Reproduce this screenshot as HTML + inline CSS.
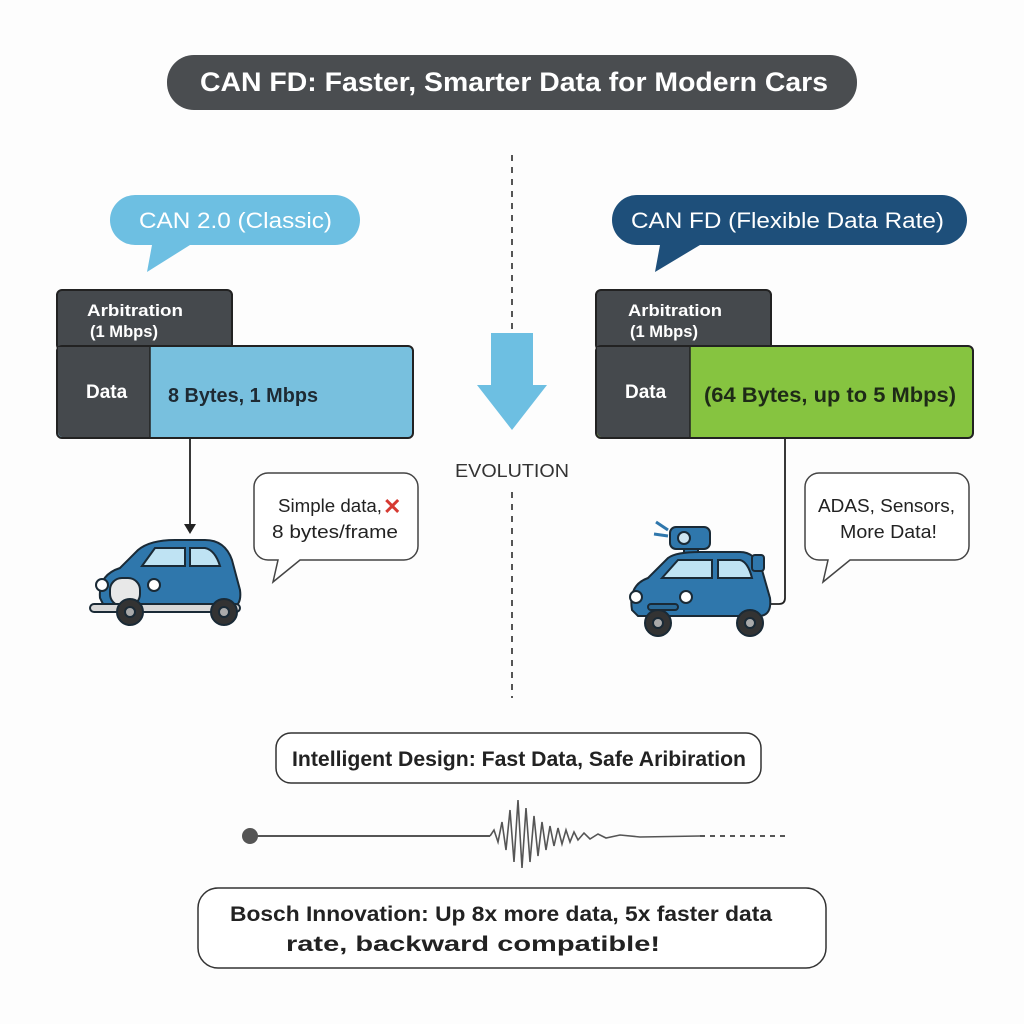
<!DOCTYPE html>
<html><head><meta charset="utf-8"><style>
body{margin:0;background:#fff}
svg{display:block}
text{font-family:"Liberation Sans",sans-serif}
</style></head><body>
<svg width="1024" height="1024" viewBox="0 0 1024 1024">
<rect width="1024" height="1024" fill="#fdfdfd"/>
<rect x="167" y="55" width="690" height="55" rx="27" fill="#4a4d50"/>
<text x="200" y="91" font-size="27" font-weight="bold" fill="#fff" textLength="628" lengthAdjust="spacingAndGlyphs">CAN FD: Faster, Smarter Data for Modern Cars</text>
<line x1="512" y1="155" x2="512" y2="425" stroke="#555" stroke-width="2" stroke-dasharray="6,6"/>
<line x1="512" y1="492" x2="512" y2="698" stroke="#555" stroke-width="2" stroke-dasharray="6,6"/>
<path d="M135 195 H335 A25 25 0 0 1 335 245 H190 L147 272 L152 245 H135 A25 25 0 0 1 135 195Z" fill="#6dbfe2"/>
<text x="139" y="228" font-size="22" fill="#fff" textLength="193" lengthAdjust="spacingAndGlyphs">CAN 2.0 (Classic)</text>
<path d="M637 195 H942 A25 25 0 0 1 942 245 H700 L655 272 L660 245 H637 A25 25 0 0 1 637 195Z" fill="#1e4f7a"/>
<text x="631" y="228" font-size="22" fill="#fff" textLength="313" lengthAdjust="spacingAndGlyphs">CAN FD (Flexible Data Rate)</text>
<rect x="57" y="290" width="175" height="60" rx="5" fill="#45494d" stroke="#222" stroke-width="2"/>
<rect x="57" y="346" width="356" height="92" rx="5" fill="#78c0de" stroke="#222" stroke-width="2"/>
<path d="M62 347 H150 V437 H62 A5 5 0 0 1 58 432 V347Z" fill="#45494d"/>
<line x1="150" y1="347" x2="150" y2="437" stroke="#222" stroke-width="1.5"/>
<text x="87" y="316" font-size="17" font-weight="bold" fill="#fff" textLength="96" lengthAdjust="spacingAndGlyphs">Arbitration</text>
<text x="90" y="337" font-size="17" font-weight="bold" fill="#fff" textLength="68" lengthAdjust="spacingAndGlyphs">(1 Mbps)</text>
<text x="86" y="398" font-size="19" font-weight="bold" fill="#fff">Data</text>
<text x="168" y="402" font-size="20" font-weight="bold" fill="#1e2a33" textLength="150" lengthAdjust="spacingAndGlyphs">8 Bytes, 1 Mbps</text>
<rect x="596" y="290" width="175" height="60" rx="5" fill="#45494d" stroke="#222" stroke-width="2"/>
<rect x="596" y="346" width="377" height="92" rx="5" fill="#86c440" stroke="#222" stroke-width="2"/>
<path d="M601 347 H690 V437 H601 A5 5 0 0 1 597 432 V347Z" fill="#45494d"/>
<line x1="690" y1="347" x2="690" y2="437" stroke="#222" stroke-width="1.5"/>
<text x="628" y="316" font-size="17" font-weight="bold" fill="#fff" textLength="94" lengthAdjust="spacingAndGlyphs">Arbitration</text>
<text x="630" y="337" font-size="17" font-weight="bold" fill="#fff" textLength="68" lengthAdjust="spacingAndGlyphs">(1 Mbps)</text>
<text x="625" y="398" font-size="19" font-weight="bold" fill="#fff">Data</text>
<text x="704" y="402" font-size="21" font-weight="bold" fill="#1e2a17" textLength="252" lengthAdjust="spacingAndGlyphs">(64 Bytes, up to 5 Mbps)</text>
<path d="M491 333 H533 V385 H547 L512 430 L477 385 H491Z" fill="#6dbfe2"/>
<text x="455" y="477" font-size="18" fill="#333" textLength="114" lengthAdjust="spacingAndGlyphs">EVOLUTION</text>
<line x1="190" y1="438" x2="190" y2="526" stroke="#222" stroke-width="1.8"/>
<path d="M184 524 L196 524 L190 534Z" fill="#222"/>
<path d="M785 438 V598 Q785 604 779 604 H768" fill="none" stroke="#222" stroke-width="1.8"/>
<path d="M268 473 H404 A14 14 0 0 1 418 487 V546 A14 14 0 0 1 404 560 H300 L273 582 L278 560 H268 A14 14 0 0 1 254 546 V487 A14 14 0 0 1 268 473Z" fill="#fff" stroke="#444" stroke-width="1.5"/>
<text x="278" y="512" font-size="18" fill="#222" textLength="104" lengthAdjust="spacingAndGlyphs">Simple data,</text>
<text x="383" y="514" font-size="22" fill="#d63a32" font-weight="bold">✕</text>
<text x="272" y="538" font-size="18" fill="#222" textLength="126" lengthAdjust="spacingAndGlyphs">8 bytes/frame</text>
<path d="M819 473 H955 A14 14 0 0 1 969 487 V546 A14 14 0 0 1 955 560 H850 L823 582 L828 560 H819 A14 14 0 0 1 805 546 V487 A14 14 0 0 1 819 473Z" fill="#fff" stroke="#444" stroke-width="1.5"/>
<text x="818" y="512" font-size="18" fill="#222" textLength="137" lengthAdjust="spacingAndGlyphs">ADAS, Sensors,</text>
<text x="840" y="538" font-size="18" fill="#222" textLength="97" lengthAdjust="spacingAndGlyphs">More Data!</text>
<g stroke="#1a2a36" stroke-width="2">
<path d="M100 598 Q98 575 120 568 L138 550 Q150 540 175 540 H205 Q225 540 232 560 L240 590 Q242 605 232 608 H105Z" fill="#2f77ac"/>
<path d="M142 566 L155 548 H185 V566Z" fill="#bfe3f3"/>
<path d="M190 548 H205 Q215 550 220 566 H190Z" fill="#bfe3f3"/>
<rect x="110" y="578" width="30" height="28" rx="12" fill="#e8e8e8"/>
<rect x="90" y="604" width="150" height="8" rx="4" fill="#d8d8d8"/>
<circle cx="130" cy="612" r="13" fill="#333"/><circle cx="130" cy="612" r="5" fill="#aaa"/>
<circle cx="224" cy="612" r="13" fill="#333"/><circle cx="224" cy="612" r="5" fill="#aaa"/>
<circle cx="102" cy="585" r="6" fill="#fff"/><circle cx="154" cy="585" r="6" fill="#fff"/>
</g>
<g stroke="#1a2a36" stroke-width="2">
<rect x="670" y="527" width="40" height="22" rx="6" fill="#2f77ac"/>
<circle cx="684" cy="538" r="6" fill="#cfe6f2"/>
<rect x="684" y="549" width="14" height="6" fill="#2f77ac"/>
<path d="M632 610 Q628 585 648 578 L668 558 Q676 552 700 552 H740 Q755 552 762 570 L770 598 Q772 615 760 616 H638Z" fill="#2f77ac"/>
<path d="M662 578 L678 560 H712 V578Z" fill="#bfe3f3"/>
<path d="M718 560 H740 Q748 562 752 578 H718Z" fill="#bfe3f3"/>
<rect x="752" y="555" width="12" height="16" rx="3" fill="#2f77ac"/>
<circle cx="658" cy="623" r="13" fill="#333"/><circle cx="658" cy="623" r="5" fill="#aaa"/>
<circle cx="750" cy="623" r="13" fill="#333"/><circle cx="750" cy="623" r="5" fill="#aaa"/>
<circle cx="636" cy="597" r="6" fill="#fff"/><circle cx="686" cy="597" r="6" fill="#fff"/>
<rect x="648" y="604" width="30" height="6" rx="3" fill="#2a6a98"/>
</g>
<path d="M656 522 L668 530 M654 534 L668 536" stroke="#2f77ac" stroke-width="3"/>
<rect x="276" y="733" width="485" height="50" rx="15" fill="#fff" stroke="#333" stroke-width="1.5"/>
<text x="292" y="766" font-size="21" font-weight="bold" fill="#222" textLength="454" lengthAdjust="spacingAndGlyphs">Intelligent Design: Fast Data, Safe Aribiration</text>
<circle cx="250" cy="836" r="8" fill="#555"/>
<line x1="250" y1="836" x2="490" y2="836" stroke="#555" stroke-width="2"/>
<polyline fill="none" stroke="#555" stroke-width="1.6" points="490,836 494,830 498,842 502,822 506,850 510,810 514,862 518,800 522,868 526,808 530,862 534,816 538,856 542,822 546,850 550,826 554,846 558,828 562,844 566,830 570,842 574,832 578,840 584,833 590,839 598,834 606,838 620,835 640,837 700,836"/>
<line x1="700" y1="836" x2="790" y2="836" stroke="#555" stroke-width="2" stroke-dasharray="5,5"/>
<rect x="198" y="888" width="628" height="80" rx="20" fill="#fff" stroke="#333" stroke-width="1.5"/>
<text x="230" y="921" font-size="21" font-weight="bold" fill="#222" textLength="542" lengthAdjust="spacingAndGlyphs">Bosch Innovation: Up 8x more data, 5x faster data</text>
<text x="286" y="951" font-size="21" font-weight="bold" fill="#222" textLength="374" lengthAdjust="spacingAndGlyphs">rate, backward compatible!</text>
</svg>
</body></html>
